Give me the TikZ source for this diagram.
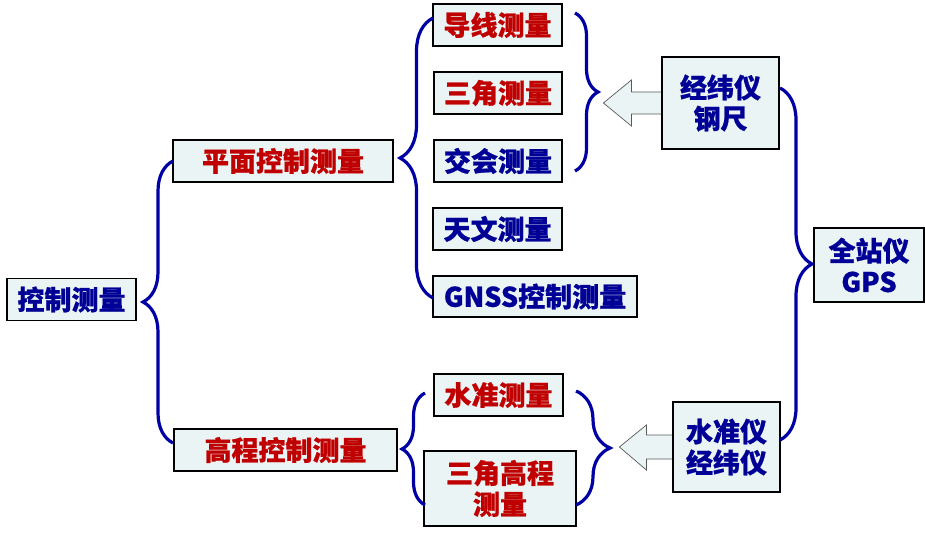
\documentclass[tikz,border=0pt]{standalone}
\usepackage{fontspec}
\setmainfont{Noto Sans CJK SC}[BoldFeatures={FakeBold=0.8}]
\usetikzlibrary{decorations.pathreplacing,backgrounds}
\definecolor{boxfill}{RGB}{234,244,244}
\definecolor{tred}{RGB}{192,0,0}
\definecolor{tblue}{RGB}{0,0,150}
\definecolor{brc}{RGB}{0,0,165}
\begin{document}
\begin{tikzpicture}[x=1pt,y=-1pt,
  box/.style={draw=black,line width=1.2pt,fill=boxfill,inner sep=0pt,align=center,
    font=\fontsize{27}{31}\selectfont\bfseries},
  rtext/.style={text=tred},
  btext/.style={text=tblue},
  curly/.style={draw=brc,line width=3.2pt,decorate,decoration={brace,amplitude=#1}},
  blockarrow/.style={draw=gray!70!black,line width=0.7pt,fill=boxfill}]
\useasboundingbox (0,0) rectangle (925,537);
% nodes
\node[box,btext,minimum width=129,minimum height=42] (kz) at (71.5,299.5) {控制测量};
\node[box,rtext,minimum width=220,minimum height=42] (pm) at (283,161) {平面控制测量};
\node[box,rtext,minimum width=223,minimum height=42] (gc) at (285.5,450) {高程控制测量};
\node[box,rtext,minimum width=129,minimum height=42] (dx) at (497.5,25) {导线测量};
\node[box,rtext,minimum width=128,minimum height=42] (sj) at (498,93) {三角测量};
\node[box,btext,minimum width=128,minimum height=42] (jh) at (498,161) {交会测量};
\node[box,btext,minimum width=129,minimum height=42] (tw) at (497.5,229) {天文测量};
\node[box,btext,minimum width=204,minimum height=41] (gnss) at (535,296.5) {GNSS控制测量};
\node[box,rtext,minimum width=129,minimum height=42] (szcl) at (498.5,395) {水准测量};
\node[box,rtext,minimum width=152,minimum height=75] (sjgc) at (500,488.5) {三角高程\\测量};
\node[box,btext,minimum width=117,minimum height=92] (jw) at (720.5,103) {经纬仪\\钢尺};
\node[box,btext,minimum width=107,minimum height=90] (sz) at (726.5,447) {水准仪\\经纬仪};
\node[box,btext,minimum width=110,minimum height=74] (qz) at (869,265) {全站仪\\GPS};
% block arrows
\begin{scope}[on background layer]
\draw[blockarrow] (jw.west) ++(0,-11) -- ++(-30,0) -- ++(0,-12) -- ++(-28,23)
  -- ++(28,23) -- ++(0,-12) -- ++(30,0) -- cycle;
\draw[blockarrow] (sz.west) ++(0,-12) -- ++(-26,0) -- ++(0,-10) -- ++(-27,22)
  -- ++(27,23) -- ++(0,-11) -- ++(26,0) -- cycle;
\end{scope}
% brace end points
\coordinate (b1t) at (173,161); \coordinate (b1b) at (173,443);
\coordinate (b2t) at (433,18);  \coordinate (b2b) at (433,298);
\coordinate (b3t) at (575,13);  \coordinate (b3b) at (575,171);
\coordinate (b4t) at (780,88);  \coordinate (b4b) at (780,440);
\coordinate (b5t) at (425,393); \coordinate (b5b) at (425,505);
\coordinate (b6t) at (576,391); \coordinate (b6b) at (576,505);
% braces
\draw[curly=30pt] (b1b) -- (b1t);
\draw[curly=33pt] (b2b) -- (b2t);
\draw[curly=23pt] (b3t) -- (b3b);
\draw[curly=32pt] (b4t) -- (b4b);
\draw[curly=23pt] (b5b) -- (b5t);
\draw[curly=34pt] (b6t) -- (b6b);
\end{tikzpicture}
\end{document}
